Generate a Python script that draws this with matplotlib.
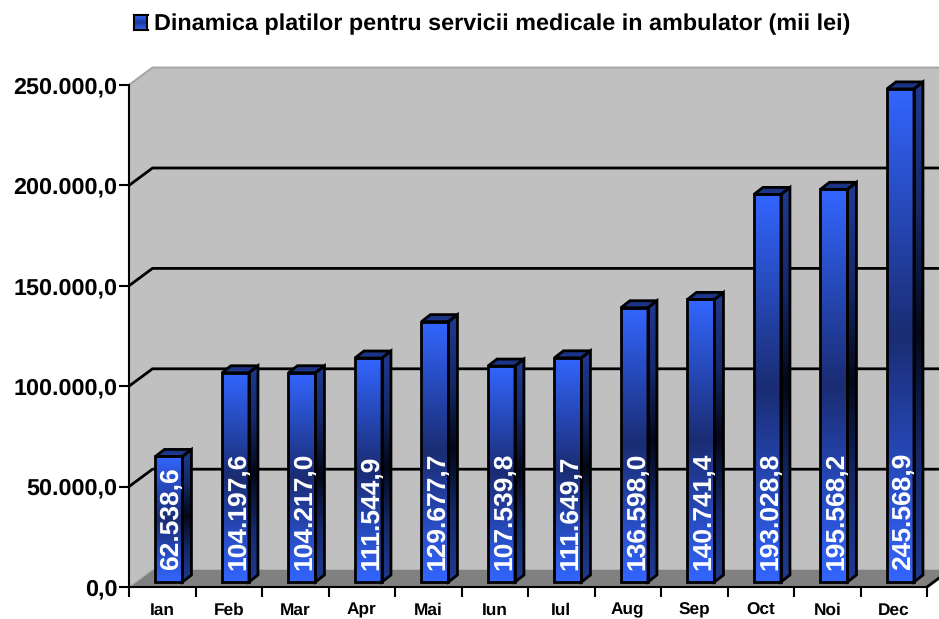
import numpy as np
import matplotlib
matplotlib.use('Agg')
import matplotlib.pyplot as plt
from matplotlib.colors import LinearSegmentedColormap
from matplotlib.patches import Polygon

# Data
months = ['Ian', 'Feb', 'Mar', 'Apr', 'Mai', 'Iun', 'Iul', 'Aug', 'Sep', 'Oct', 'Noi', 'Dec']
values = [62538.6, 104197.6, 104217.0, 111544.9, 129677.7, 107539.8,
          111649.7, 136598.0, 140741.4, 193028.8, 195568.2, 245568.9]
labels = ['62.538,6', '104.197,6', '104.217,0', '111.544,9', '129.677,7', '107.539,8',
          '111.649,7', '136.598,0', '140.741,4', '193.028,8', '195.568,2', '245.568,9']
y_ticks = [0, 50000, 100000, 150000, 200000, 250000]
y_tick_labels = ['0,0', '50.000,0', '100.000,0', '150.000,0', '200.000,0', '250.000,0']
title = 'Dinamica platilor pentru servicii medicale in ambulator (mii lei)'

plt.rcParams['font.family'] = ['Liberation Sans', 'DejaVu Sans']
plt.rcParams['text.hinting'] = 'no_hinting'
W, H = 939, 619
fig = plt.figure(figsize=(W / 100, H / 100), dpi=100)
left, right, bottom, top = 129, 927, 587, 85
ax = fig.add_axes([left / W, 1 - bottom / H, (right - left) / W, (bottom - top) / H])
ax.patch.set_visible(False)

# size of one pixel in data units
px = 12 / (right - left)
py = 250000 / (bottom - top)
depth_x, depth_y = 23.5 * px, 17.4 * py

front = LinearSegmentedColormap.from_list('front', ['#3366ff', '#1a2c72', '#3366ff'])
side = LinearSegmentedColormap.from_list('side', [(0, '#1f3a90'), (0.25, '#14286a'), (0.5, '#030818'),
                                                  (0.75, '#14286a'), (1, '#1f3a90')])
top_face = LinearSegmentedColormap.from_list('topf', ['#1f3a90', '#1a3080'])
grad = np.linspace(0, 1, 256).reshape(-1, 1)


def shaded(points, cmap, z):
    xs = [p[0] for p in points]
    ys = [p[1] for p in points]
    im = ax.imshow(grad, cmap=cmap, origin='lower', aspect='auto', zorder=z,
                   extent=[min(xs), max(xs), min(ys), max(ys)])
    poly = Polygon(points, closed=True, facecolor='none', edgecolor='black', lw=2,
                   zorder=z + 0.1, clip_on=False, joinstyle='miter')
    ax.add_patch(poly)
    im.set_clip_path(poly)
    im.set_clip_box(fig.bbox)


# Walls and floor
ymax = 250000
wall = '#c0c0c0'
ax.add_patch(Polygon([(0, 0), (depth_x, depth_y), (12 + 2, depth_y), (12 + 2, ymax + depth_y),
                      (depth_x, ymax + depth_y), (0, ymax)], closed=True, facecolor=wall,
                     edgecolor='none', clip_on=False, zorder=1))
ax.add_patch(Polygon([(0, 0), (12, 0), (12 + depth_x, depth_y), (depth_x, depth_y)], closed=True,
                     facecolor='#808080', edgecolor='none', clip_on=False, zorder=1.5))
ax.plot([0, depth_x, 14], [ymax, ymax + depth_y, ymax + depth_y], color='#a6a6a6', lw=1.5,
        clip_on=False, zorder=2)
ax.plot([0, depth_x], [0, depth_y], color='#b0b0b0', lw=1, clip_on=False, zorder=2)
ax.plot([depth_x, 14], [depth_y, depth_y], color='#a6a6a6', lw=1, clip_on=False, zorder=1.2)

# Gridlines on the wall
for t in y_ticks[1:-1]:
    ax.plot([0, depth_x, 14], [t, t + depth_y, t + depth_y], color='black', lw=2,
            clip_on=False, zorder=2, solid_joinstyle='miter')

# Bars
bar_w = 27 * px
bar_dx, bar_dy = 9 * px, 7 * py
base_x, base_y = 6.7 * px, 5 * py
for i, v in enumerate(values):
    x0 = i + 0.5 + base_x - bar_w / 2
    x1 = x0 + bar_w
    y0 = base_y
    y1 = base_y + v
    shaded([(x0, y0), (x1, y0), (x1, y1), (x0, y1)], front, 3 + i)
    shaded([(x1, y0), (x1 + bar_dx, y0 + bar_dy), (x1 + bar_dx, y1 + bar_dy), (x1, y1)], side, 3 + i)
    shaded([(x0, y1), (x1, y1), (x1 + bar_dx, y1 + bar_dy), (x0 + bar_dx, y1 + bar_dy)], top_face, 3 + i)
    ax.annotate(labels[i], xy=(i + 0.5 + base_x, y0), xytext=(2, 9), textcoords='offset points',
                rotation=90, ha='center', va='bottom', color='white', fontsize=19,
                fontweight='bold', zorder=20)

ax.plot([12, 12 + depth_x], [0, depth_y], color='black', lw=2, clip_on=False, zorder=2)

# Axes
ax.set_xlim(0, 12)
ax.set_ylim(0, ymax)
ax.set_xticks(range(13))
ax.set_xticklabels([])
ax.set_xticks(np.arange(12) + 0.5, months, minor=True)
ax.set_yticks(y_ticks, y_tick_labels)
ax.tick_params(axis='y', length=7.5, width=1.5, pad=1, labelsize=16.8)
ax.tick_params(axis='x', which='major', length=7.5, width=1.5)
ax.tick_params(axis='x', which='minor', length=0, pad=11, labelsize=12.4)
for lab in ax.get_yticklabels() + ax.get_xticklabels(minor=True):
    lab.set_fontweight('bold')
for name in ['top', 'right']:
    ax.spines[name].set_visible(False)
for name in ['left', 'bottom']:
    ax.spines[name].set_linewidth(1.5)
    ax.spines[name].set_zorder(25)

# Title with legend key
fig.text(154 / W, 1 - 24 / H, title, fontsize=16.8, fontweight='bold', va='center', ha='left')
key = fig.add_axes([133.5 / W, 1 - 30 / H, 14 / W, 15 / H])
key.imshow(grad, cmap=LinearSegmentedColormap.from_list('key', ['#3366ff', '#1c3a9a', '#3366ff']),
           aspect='auto')
key.set_xticks([])
key.set_yticks([])
for s in key.spines.values():
    s.set_linewidth(1.5)

fig.savefig('out.png', dpi=100)
